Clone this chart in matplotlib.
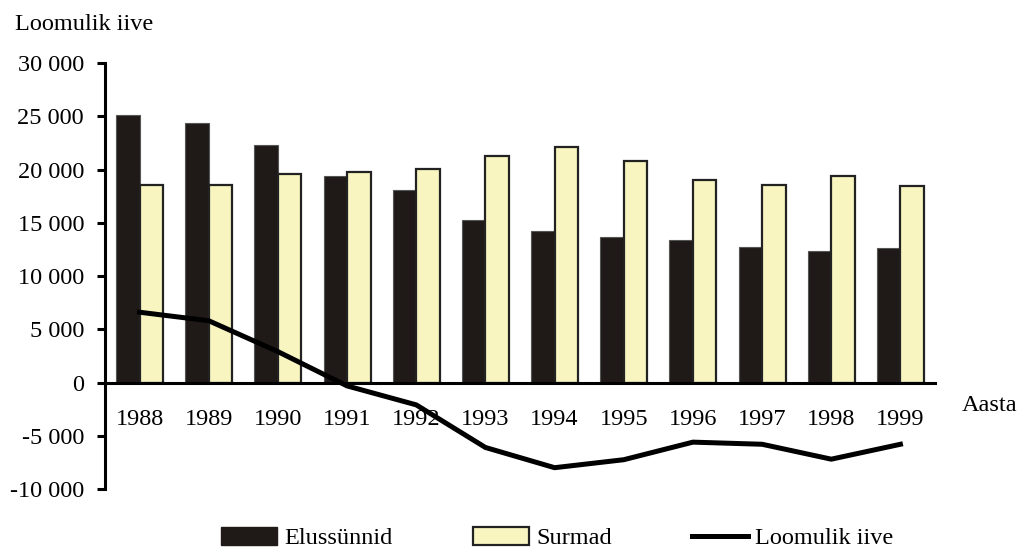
import numpy as np
import matplotlib.pyplot as plt
from matplotlib.patches import Patch
from matplotlib.lines import Line2D

# Eesti rahvastik 1988-1999
aastad = ["1988", "1989", "1990", "1991", "1992", "1993",
          "1994", "1995", "1996", "1997", "1998", "1999"]
elussynnid = [25100, 24340, 22340, 19370, 18060, 15250,
              14250, 13620, 13370, 12710, 12310, 12620]
surmad = [18580, 18580, 19560, 19720, 20090, 21280,
          22150, 20840, 19030, 18560, 19430, 18470]
loomulik_iive = [6600, 5800, 2900, -320, -2100, -6100,
                 -8000, -7250, -5600, -5800, -7200, -5800]

y_ticks = [-10000, -5000, 0, 5000, 10000, 15000, 20000, 25000, 30000]

DARK = "#1f1a17"
LIGHT = "#f8f5c0"

plt.rcParams["font.family"] = ["Liberation Serif", "DejaVu Serif"]
plt.rcParams["font.size"] = 17.5

fig = plt.figure(figsize=(10.19, 5.49), dpi=100)
ax = fig.add_axes([0.103, 0.1093, 0.9176 - 0.103, 0.8852 - 0.1093])

x = np.arange(len(aastad))
w = 0.34
ax.bar(x - w / 2, elussynnid, w, color=DARK, edgecolor="#555555", linewidth=0.8)
ax.bar(x + w / 2, surmad, w, color=LIGHT, edgecolor="#222222", linewidth=1.6)
ax.plot(x, loomulik_iive, color="black", linewidth=3.6, solid_joinstyle="round", zorder=4)

ax.set_xlim(-0.5, len(aastad) - 0.5)
ax.set_ylim(-10000, 30000)
ax.set_yticks(y_ticks)
ax.set_yticklabels([f"{v:,}".replace(",", " ") for v in y_ticks])
ax.set_xticks(x)
ax.set_xticklabels(aastad)

for s in ["top", "right"]:
    ax.spines[s].set_visible(False)
ax.spines["bottom"].set_position(("data", 0))
ax.spines["left"].set_linewidth(2.2)
ax.spines["bottom"].set_linewidth(2.2)
ax.tick_params(axis="y", length=6, width=2.2, pad=9, direction="out")
ax.tick_params(axis="x", length=0, pad=19)

fig.text(0.015, 0.945, "Loomulik iive", ha="left", va="baseline")
fig.text(0.944, 0.262, "Aasta", ha="left", va="center")

handles = [
    Patch(facecolor=DARK, edgecolor=DARK, label="Elussünnid"),
    Patch(facecolor=LIGHT, edgecolor="#222222", linewidth=1.6, label="Surmad"),
    Line2D([0], [0], color="black", linewidth=3.6, label="Loomulik iive"),
]
fig.legend(handles=handles, loc="center", bbox_to_anchor=(0.547, 0.02), ncol=3,
           frameon=False, handlelength=2.3, handleheight=0.8, handletextpad=0.3,
           columnspacing=3.3)

fig.savefig("out.png", dpi=100)
